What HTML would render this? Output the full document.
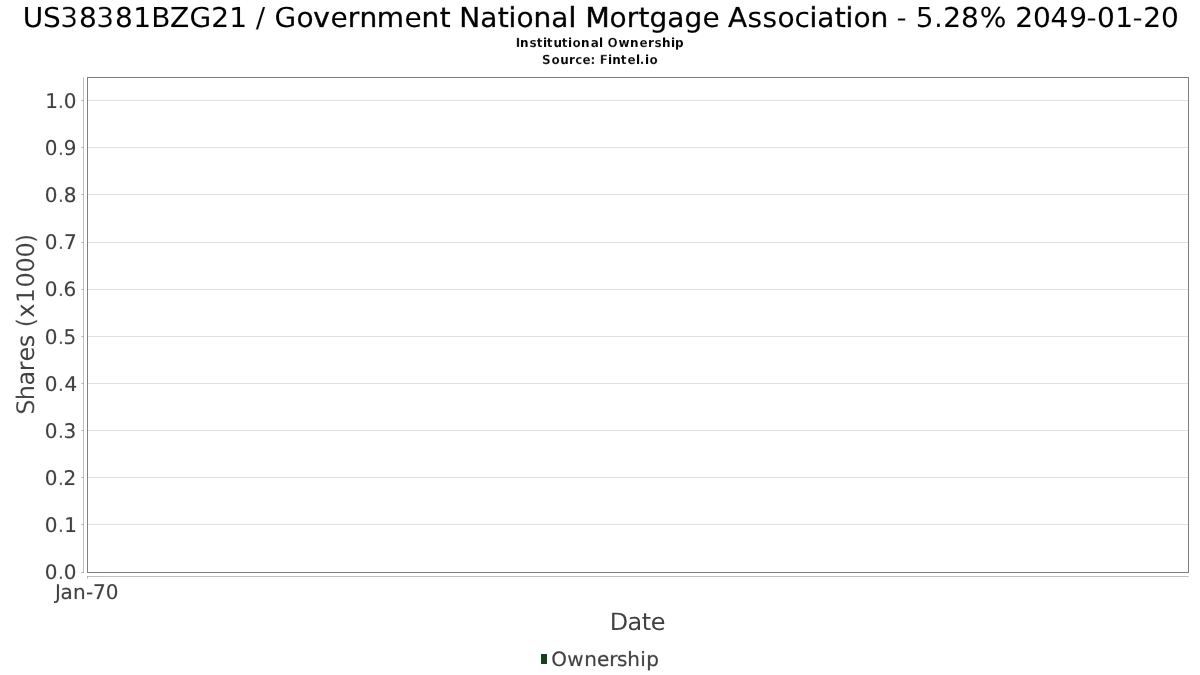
<!DOCTYPE html>
<html lang="en">
<head>
<meta charset="utf-8">
<title>US38381BZG21 / Government National Mortgage Association - 5.28% 2049-01-20 - Institutional Ownership</title>
<style>
html, body { margin: 0; padding: 0; background: #ffffff; }
body { width: 1200px; height: 675px; overflow: hidden; }
svg { display: block; }
</style>
</head>
<body>
<svg width="1200" height="675" viewBox="0 0 1200 675" font-family='"DejaVu Sans", "Liberation Sans", sans-serif' text-rendering="geometricPrecision">
<!-- per-glyph stroke weight maps: emulate the hinted stem weights of the original chart renderer -->
<defs>
<linearGradient id="title-weight" gradientUnits="userSpaceOnUse" x1="0" y1="0" x2="1157" y2="0"><stop offset="0" stop-color="#000000" stop-opacity="0.21"/><stop offset="0.01815" stop-color="#000000" stop-opacity="0.21"/><stop offset="0.01815" stop-color="#000000" stop-opacity="0.06"/><stop offset="0.03371" stop-color="#000000" stop-opacity="0.06"/><stop offset="0.03371" stop-color="#ffffff" stop-opacity="0.49"/><stop offset="0.04927" stop-color="#ffffff" stop-opacity="0.49"/><stop offset="0.04927" stop-color="#000000" stop-opacity="0.15"/><stop offset="0.06482" stop-color="#000000" stop-opacity="0.15"/><stop offset="0.06482" stop-color="#ffffff" stop-opacity="0.49"/><stop offset="0.08038" stop-color="#ffffff" stop-opacity="0.49"/><stop offset="0.08038" stop-color="#000000" stop-opacity="0.15"/><stop offset="0.1115" stop-color="#000000" stop-opacity="0.15"/><stop offset="0.1115" stop-color="#ffffff" stop-opacity="0.08"/><stop offset="0.12792" stop-color="#ffffff" stop-opacity="0.08"/><stop offset="0.12792" stop-color="#000000" stop-opacity="0.23"/><stop offset="0.14434" stop-color="#000000" stop-opacity="0.23"/><stop offset="0.14434" stop-color="#ffffff" stop-opacity="0.05"/><stop offset="0.16335" stop-color="#ffffff" stop-opacity="0.05"/><stop offset="0.16335" stop-color="#000000" stop-opacity="0.22"/><stop offset="0.17891" stop-color="#000000" stop-opacity="0.22"/><stop offset="0.17891" stop-color="#000000" stop-opacity="0.15"/><stop offset="0.19447" stop-color="#000000" stop-opacity="0.15"/><stop offset="0.19447" stop-color="#000000" stop-opacity="0"/><stop offset="0.20225" stop-color="#000000" stop-opacity="0"/><stop offset="0.20225" stop-color="#ffffff" stop-opacity="0.24"/><stop offset="0.21003" stop-color="#ffffff" stop-opacity="0.24"/><stop offset="0.21003" stop-color="#000000" stop-opacity="0"/><stop offset="0.2178" stop-color="#000000" stop-opacity="0"/><stop offset="0.2178" stop-color="#ffffff" stop-opacity="0.05"/><stop offset="0.23682" stop-color="#ffffff" stop-opacity="0.05"/><stop offset="0.23682" stop-color="#000000" stop-opacity="0.22"/><stop offset="0.25151" stop-color="#000000" stop-opacity="0.22"/><stop offset="0.25151" stop-color="#000000" stop-opacity="0.71"/><stop offset="0.26621" stop-color="#000000" stop-opacity="0.71"/><stop offset="0.26621" stop-color="#000000" stop-opacity="0.11"/><stop offset="0.2809" stop-color="#000000" stop-opacity="0.11"/><stop offset="0.2809" stop-color="#000000" stop-opacity="0.55"/><stop offset="0.29127" stop-color="#000000" stop-opacity="0.55"/><stop offset="0.29127" stop-color="#000000" stop-opacity="0.5"/><stop offset="0.30683" stop-color="#000000" stop-opacity="0.5"/><stop offset="0.30683" stop-color="#000000" stop-opacity="0.44"/><stop offset="0.33016" stop-color="#000000" stop-opacity="0.44"/><stop offset="0.33016" stop-color="#000000" stop-opacity="0.11"/><stop offset="0.34486" stop-color="#000000" stop-opacity="0.11"/><stop offset="0.34486" stop-color="#000000" stop-opacity="0.56"/><stop offset="0.36041" stop-color="#000000" stop-opacity="0.56"/><stop offset="0.36041" stop-color="#000000" stop-opacity="0.55"/><stop offset="0.36992" stop-color="#000000" stop-opacity="0.55"/><stop offset="0.36992" stop-color="#000000" stop-opacity="0"/><stop offset="0.3777" stop-color="#000000" stop-opacity="0"/><stop offset="0.3777" stop-color="#000000" stop-opacity="0.54"/><stop offset="0.39585" stop-color="#000000" stop-opacity="0.54"/><stop offset="0.39585" stop-color="#000000" stop-opacity="0.25"/><stop offset="0.41054" stop-color="#000000" stop-opacity="0.25"/><stop offset="0.41054" stop-color="#000000" stop-opacity="0.55"/><stop offset="0.42005" stop-color="#000000" stop-opacity="0.55"/><stop offset="0.42005" stop-color="#000000" stop-opacity="0.66"/><stop offset="0.42697" stop-color="#000000" stop-opacity="0.66"/><stop offset="0.42697" stop-color="#000000" stop-opacity="0.22"/><stop offset="0.44166" stop-color="#000000" stop-opacity="0.22"/><stop offset="0.44166" stop-color="#000000" stop-opacity="0.56"/><stop offset="0.45722" stop-color="#000000" stop-opacity="0.56"/><stop offset="0.45722" stop-color="#000000" stop-opacity="0.25"/><stop offset="0.47191" stop-color="#000000" stop-opacity="0.25"/><stop offset="0.47191" stop-color="#000000" stop-opacity="1"/><stop offset="0.47882" stop-color="#000000" stop-opacity="1"/><stop offset="0.47882" stop-color="#000000" stop-opacity="0"/><stop offset="0.4866" stop-color="#000000" stop-opacity="0"/><stop offset="0.4866" stop-color="#000000" stop-opacity="0.84"/><stop offset="0.50735" stop-color="#000000" stop-opacity="0.84"/><stop offset="0.50735" stop-color="#000000" stop-opacity="0.22"/><stop offset="0.52204" stop-color="#000000" stop-opacity="0.22"/><stop offset="0.52204" stop-color="#000000" stop-opacity="0.55"/><stop offset="0.53241" stop-color="#000000" stop-opacity="0.55"/><stop offset="0.53241" stop-color="#000000" stop-opacity="0.44"/><stop offset="0.54192" stop-color="#000000" stop-opacity="0.44"/><stop offset="0.54192" stop-color="#000000" stop-opacity="0.36"/><stop offset="0.55748" stop-color="#000000" stop-opacity="0.36"/><stop offset="0.55748" stop-color="#000000" stop-opacity="0.25"/><stop offset="0.57217" stop-color="#000000" stop-opacity="0.25"/><stop offset="0.57217" stop-color="#000000" stop-opacity="0.38"/><stop offset="0.58773" stop-color="#000000" stop-opacity="0.38"/><stop offset="0.58773" stop-color="#000000" stop-opacity="0.11"/><stop offset="0.60242" stop-color="#000000" stop-opacity="0.11"/><stop offset="0.60242" stop-color="#000000" stop-opacity="0"/><stop offset="0.6102" stop-color="#000000" stop-opacity="0"/><stop offset="0.6102" stop-color="#000000" stop-opacity="0.45"/><stop offset="0.62662" stop-color="#000000" stop-opacity="0.45"/><stop offset="0.62662" stop-color="#000000" stop-opacity="0.1"/><stop offset="0.63959" stop-color="#000000" stop-opacity="0.1"/><stop offset="0.63959" stop-color="#000000" stop-opacity="0.11"/><stop offset="0.65255" stop-color="#000000" stop-opacity="0.11"/><stop offset="0.65255" stop-color="#000000" stop-opacity="0.22"/><stop offset="0.66724" stop-color="#000000" stop-opacity="0.22"/><stop offset="0.66724" stop-color="#000000" stop-opacity="0.03"/><stop offset="0.68021" stop-color="#000000" stop-opacity="0.03"/><stop offset="0.68021" stop-color="#000000" stop-opacity="0.77"/><stop offset="0.68712" stop-color="#000000" stop-opacity="0.77"/><stop offset="0.68712" stop-color="#000000" stop-opacity="0.25"/><stop offset="0.70182" stop-color="#000000" stop-opacity="0.25"/><stop offset="0.70182" stop-color="#000000" stop-opacity="0.54"/><stop offset="0.71132" stop-color="#000000" stop-opacity="0.54"/><stop offset="0.71132" stop-color="#000000" stop-opacity="0.66"/><stop offset="0.71824" stop-color="#000000" stop-opacity="0.66"/><stop offset="0.71824" stop-color="#000000" stop-opacity="0.22"/><stop offset="0.73293" stop-color="#000000" stop-opacity="0.22"/><stop offset="0.73293" stop-color="#000000" stop-opacity="0.56"/><stop offset="0.74849" stop-color="#000000" stop-opacity="0.56"/><stop offset="0.74849" stop-color="#000000" stop-opacity="0"/><stop offset="0.75627" stop-color="#000000" stop-opacity="0"/><stop offset="0.75627" stop-color="#ffffff" stop-opacity="0.34"/><stop offset="0.76491" stop-color="#ffffff" stop-opacity="0.34"/><stop offset="0.76491" stop-color="#000000" stop-opacity="0"/><stop offset="0.77269" stop-color="#000000" stop-opacity="0"/><stop offset="0.77269" stop-color="#ffffff" stop-opacity="0.19"/><stop offset="0.78825" stop-color="#ffffff" stop-opacity="0.19"/><stop offset="0.78825" stop-color="#ffffff" stop-opacity="0.21"/><stop offset="0.79602" stop-color="#ffffff" stop-opacity="0.21"/><stop offset="0.79602" stop-color="#000000" stop-opacity="0.22"/><stop offset="0.81158" stop-color="#000000" stop-opacity="0.22"/><stop offset="0.81158" stop-color="#000000" stop-opacity="0.15"/><stop offset="0.82714" stop-color="#000000" stop-opacity="0.15"/><stop offset="0.82714" stop-color="#000000" stop-opacity="0.14"/><stop offset="0.85048" stop-color="#000000" stop-opacity="0.14"/><stop offset="0.85048" stop-color="#000000" stop-opacity="0"/><stop offset="0.85825" stop-color="#000000" stop-opacity="0"/><stop offset="0.85825" stop-color="#000000" stop-opacity="0.22"/><stop offset="0.87381" stop-color="#000000" stop-opacity="0.22"/><stop offset="0.87381" stop-color="#000000" stop-opacity="0.17"/><stop offset="0.88937" stop-color="#000000" stop-opacity="0.17"/><stop offset="0.88937" stop-color="#000000" stop-opacity="0.14"/><stop offset="0.90493" stop-color="#000000" stop-opacity="0.14"/><stop offset="0.90493" stop-color="#ffffff" stop-opacity="0.09"/><stop offset="0.92048" stop-color="#ffffff" stop-opacity="0.09"/><stop offset="0.92048" stop-color="#ffffff" stop-opacity="0.34"/><stop offset="0.92913" stop-color="#ffffff" stop-opacity="0.34"/><stop offset="0.92913" stop-color="#000000" stop-opacity="0.17"/><stop offset="0.94468" stop-color="#000000" stop-opacity="0.17"/><stop offset="0.94468" stop-color="#000000" stop-opacity="0.15"/><stop offset="0.96024" stop-color="#000000" stop-opacity="0.15"/><stop offset="0.96024" stop-color="#ffffff" stop-opacity="0.34"/><stop offset="0.96889" stop-color="#ffffff" stop-opacity="0.34"/><stop offset="0.96889" stop-color="#000000" stop-opacity="0.22"/><stop offset="0.98444" stop-color="#000000" stop-opacity="0.22"/><stop offset="0.98444" stop-color="#000000" stop-opacity="0.17"/><stop offset="1" stop-color="#000000" stop-opacity="0.17"/></linearGradient>
<linearGradient id="sub1-weight" gradientUnits="userSpaceOnUse" x1="0" y1="0" x2="168" y2="0"><stop offset="0" stop-color="#ffffff" stop-opacity="0.43"/><stop offset="0.02381" stop-color="#ffffff" stop-opacity="0.43"/><stop offset="0.02381" stop-color="#ffffff" stop-opacity="0.06"/><stop offset="0.07738" stop-color="#ffffff" stop-opacity="0.06"/><stop offset="0.07738" stop-color="#ffffff" stop-opacity="0.3"/><stop offset="0.125" stop-color="#ffffff" stop-opacity="0.3"/><stop offset="0.125" stop-color="#ffffff" stop-opacity="0.32"/><stop offset="0.16071" stop-color="#ffffff" stop-opacity="0.32"/><stop offset="0.16071" stop-color="#ffffff" stop-opacity="0.06"/><stop offset="0.18452" stop-color="#ffffff" stop-opacity="0.06"/><stop offset="0.18452" stop-color="#ffffff" stop-opacity="0.32"/><stop offset="0.22024" stop-color="#ffffff" stop-opacity="0.32"/><stop offset="0.22024" stop-color="#ffffff" stop-opacity="0.11"/><stop offset="0.27381" stop-color="#ffffff" stop-opacity="0.11"/><stop offset="0.27381" stop-color="#ffffff" stop-opacity="0.32"/><stop offset="0.30952" stop-color="#ffffff" stop-opacity="0.32"/><stop offset="0.30952" stop-color="#ffffff" stop-opacity="0.04"/><stop offset="0.33333" stop-color="#ffffff" stop-opacity="0.04"/><stop offset="0.33333" stop-color="#ffffff" stop-opacity="0.4"/><stop offset="0.3869" stop-color="#ffffff" stop-opacity="0.4"/><stop offset="0.3869" stop-color="#ffffff" stop-opacity="0.06"/><stop offset="0.44048" stop-color="#ffffff" stop-opacity="0.06"/><stop offset="0.44048" stop-color="#ffffff" stop-opacity="0.27"/><stop offset="0.49405" stop-color="#ffffff" stop-opacity="0.27"/><stop offset="0.49405" stop-color="#ffffff" stop-opacity="0.02"/><stop offset="0.51786" stop-color="#ffffff" stop-opacity="0.02"/><stop offset="0.51786" stop-color="#000000" stop-opacity="0"/><stop offset="0.54167" stop-color="#000000" stop-opacity="0"/><stop offset="0.54167" stop-color="#ffffff" stop-opacity="0.58"/><stop offset="0.60714" stop-color="#ffffff" stop-opacity="0.58"/><stop offset="0.60714" stop-color="#ffffff" stop-opacity="0.13"/><stop offset="0.67857" stop-color="#ffffff" stop-opacity="0.13"/><stop offset="0.67857" stop-color="#ffffff" stop-opacity="0.06"/><stop offset="0.73214" stop-color="#ffffff" stop-opacity="0.06"/><stop offset="0.73214" stop-color="#ffffff" stop-opacity="0.34"/><stop offset="0.78571" stop-color="#ffffff" stop-opacity="0.34"/><stop offset="0.78571" stop-color="#ffffff" stop-opacity="0.19"/><stop offset="0.82143" stop-color="#ffffff" stop-opacity="0.19"/><stop offset="0.82143" stop-color="#ffffff" stop-opacity="0.29"/><stop offset="0.86905" stop-color="#ffffff" stop-opacity="0.29"/><stop offset="0.86905" stop-color="#000000" stop-opacity="0.01"/><stop offset="0.92262" stop-color="#000000" stop-opacity="0.01"/><stop offset="0.92262" stop-color="#ffffff" stop-opacity="0.03"/><stop offset="0.94643" stop-color="#ffffff" stop-opacity="0.03"/><stop offset="0.94643" stop-color="#ffffff" stop-opacity="0.14"/><stop offset="1" stop-color="#ffffff" stop-opacity="0.14"/></linearGradient>
<linearGradient id="sub2-weight" gradientUnits="userSpaceOnUse" x1="0" y1="0" x2="116" y2="0"><stop offset="0" stop-color="#ffffff" stop-opacity="0.36"/><stop offset="0.07759" stop-color="#ffffff" stop-opacity="0.36"/><stop offset="0.07759" stop-color="#ffffff" stop-opacity="0.39"/><stop offset="0.15517" stop-color="#ffffff" stop-opacity="0.39"/><stop offset="0.15517" stop-color="#ffffff" stop-opacity="0.09"/><stop offset="0.23276" stop-color="#ffffff" stop-opacity="0.09"/><stop offset="0.23276" stop-color="#ffffff" stop-opacity="0.19"/><stop offset="0.28448" stop-color="#ffffff" stop-opacity="0.19"/><stop offset="0.28448" stop-color="#ffffff" stop-opacity="0.48"/><stop offset="0.34483" stop-color="#ffffff" stop-opacity="0.48"/><stop offset="0.34483" stop-color="#ffffff" stop-opacity="0.34"/><stop offset="0.42241" stop-color="#ffffff" stop-opacity="0.34"/><stop offset="0.42241" stop-color="#ffffff" stop-opacity="0.41"/><stop offset="0.46552" stop-color="#ffffff" stop-opacity="0.41"/><stop offset="0.46552" stop-color="#000000" stop-opacity="0"/><stop offset="0.5" stop-color="#000000" stop-opacity="0"/><stop offset="0.5" stop-color="#ffffff" stop-opacity="0.6"/><stop offset="0.56897" stop-color="#ffffff" stop-opacity="0.6"/><stop offset="0.56897" stop-color="#ffffff" stop-opacity="0.04"/><stop offset="0.60345" stop-color="#ffffff" stop-opacity="0.04"/><stop offset="0.60345" stop-color="#ffffff" stop-opacity="0.06"/><stop offset="0.68103" stop-color="#ffffff" stop-opacity="0.06"/><stop offset="0.68103" stop-color="#ffffff" stop-opacity="0.32"/><stop offset="0.73276" stop-color="#ffffff" stop-opacity="0.32"/><stop offset="0.73276" stop-color="#ffffff" stop-opacity="0.34"/><stop offset="0.81034" stop-color="#ffffff" stop-opacity="0.34"/><stop offset="0.81034" stop-color="#ffffff" stop-opacity="0.02"/><stop offset="0.84483" stop-color="#ffffff" stop-opacity="0.02"/><stop offset="0.84483" stop-color="#ffffff" stop-opacity="0.41"/><stop offset="0.88793" stop-color="#ffffff" stop-opacity="0.41"/><stop offset="0.88793" stop-color="#ffffff" stop-opacity="0.04"/><stop offset="0.92241" stop-color="#ffffff" stop-opacity="0.04"/><stop offset="0.92241" stop-color="#ffffff" stop-opacity="0.39"/><stop offset="1" stop-color="#ffffff" stop-opacity="0.39"/></linearGradient>
<linearGradient id="xt0-weight" gradientUnits="userSpaceOnUse" x1="0" y1="0" x2="64" y2="0"><stop offset="0" stop-color="#404040" stop-opacity="0.16"/><stop offset="0.09375" stop-color="#404040" stop-opacity="0.16"/><stop offset="0.09375" stop-color="#404040" stop-opacity="0.32"/><stop offset="0.28125" stop-color="#404040" stop-opacity="0.32"/><stop offset="0.28125" stop-color="#404040" stop-opacity="0.28"/><stop offset="0.48438" stop-color="#404040" stop-opacity="0.28"/><stop offset="0.48438" stop-color="#404040" stop-opacity="0.22"/><stop offset="0.59375" stop-color="#404040" stop-opacity="0.22"/><stop offset="0.59375" stop-color="#404040" stop-opacity="0.29"/><stop offset="0.79688" stop-color="#404040" stop-opacity="0.29"/><stop offset="0.79688" stop-color="#404040" stop-opacity="0.27"/><stop offset="1" stop-color="#404040" stop-opacity="0.27"/></linearGradient>
<linearGradient id="xlab-weight" gradientUnits="userSpaceOnUse" x1="0" y1="0" x2="55" y2="0"><stop offset="0" stop-color="#ffffff" stop-opacity="0.14"/><stop offset="0.32727" stop-color="#ffffff" stop-opacity="0.14"/><stop offset="0.32727" stop-color="#404040" stop-opacity="0.03"/><stop offset="0.58182" stop-color="#404040" stop-opacity="0.03"/><stop offset="0.58182" stop-color="#ffffff" stop-opacity="0.05"/><stop offset="0.74545" stop-color="#ffffff" stop-opacity="0.05"/><stop offset="0.74545" stop-color="#404040" stop-opacity="0.04"/><stop offset="1" stop-color="#404040" stop-opacity="0.04"/></linearGradient>
<linearGradient id="leg-weight" gradientUnits="userSpaceOnUse" x1="0" y1="0" x2="108" y2="0"><stop offset="0" stop-color="#404040" stop-opacity="0.19"/><stop offset="0.14815" stop-color="#404040" stop-opacity="0.19"/><stop offset="0.14815" stop-color="#404040" stop-opacity="0.23"/><stop offset="0.30556" stop-color="#404040" stop-opacity="0.23"/><stop offset="0.30556" stop-color="#404040" stop-opacity="0.3"/><stop offset="0.42593" stop-color="#404040" stop-opacity="0.3"/><stop offset="0.42593" stop-color="#404040" stop-opacity="0.51"/><stop offset="0.53704" stop-color="#404040" stop-opacity="0.51"/><stop offset="0.53704" stop-color="#404040" stop-opacity="0.4"/><stop offset="0.61111" stop-color="#404040" stop-opacity="0.4"/><stop offset="0.61111" stop-color="#404040" stop-opacity="0.34"/><stop offset="0.7037" stop-color="#404040" stop-opacity="0.34"/><stop offset="0.7037" stop-color="#404040" stop-opacity="0.29"/><stop offset="0.82407" stop-color="#404040" stop-opacity="0.29"/><stop offset="0.82407" stop-color="#404040" stop-opacity="0.24"/><stop offset="0.87963" stop-color="#404040" stop-opacity="0.24"/><stop offset="0.87963" stop-color="#404040" stop-opacity="0.37"/><stop offset="1" stop-color="#404040" stop-opacity="0.37"/></linearGradient>
<linearGradient id="yt0-weight" gradientUnits="userSpaceOnUse" x1="0" y1="0" x2="32" y2="0"><stop offset="0" stop-color="#404040" stop-opacity="0.2"/><stop offset="0.40625" stop-color="#404040" stop-opacity="0.2"/><stop offset="0.40625" stop-color="#ffffff" stop-opacity="0.54"/><stop offset="0.59375" stop-color="#ffffff" stop-opacity="0.54"/><stop offset="0.59375" stop-color="#404040" stop-opacity="0.27"/><stop offset="1" stop-color="#404040" stop-opacity="0.27"/></linearGradient>
<linearGradient id="yt1-weight" gradientUnits="userSpaceOnUse" x1="0" y1="0" x2="32" y2="0"><stop offset="0" stop-color="#404040" stop-opacity="0.15"/><stop offset="0.40625" stop-color="#404040" stop-opacity="0.15"/><stop offset="0.40625" stop-color="#ffffff" stop-opacity="0.55"/><stop offset="0.59375" stop-color="#ffffff" stop-opacity="0.55"/><stop offset="0.59375" stop-color="#404040" stop-opacity="0.07"/><stop offset="1" stop-color="#404040" stop-opacity="0.07"/></linearGradient>
<linearGradient id="yt2-weight" gradientUnits="userSpaceOnUse" x1="0" y1="0" x2="32" y2="0"><stop offset="0" stop-color="#404040" stop-opacity="0.27"/><stop offset="0.40625" stop-color="#404040" stop-opacity="0.27"/><stop offset="0.40625" stop-color="#ffffff" stop-opacity="0.54"/><stop offset="0.59375" stop-color="#ffffff" stop-opacity="0.54"/><stop offset="0.59375" stop-color="#404040" stop-opacity="0.31"/><stop offset="1" stop-color="#404040" stop-opacity="0.31"/></linearGradient>
<linearGradient id="yt3-weight" gradientUnits="userSpaceOnUse" x1="0" y1="0" x2="32" y2="0"><stop offset="0" stop-color="#404040" stop-opacity="0.27"/><stop offset="0.40625" stop-color="#404040" stop-opacity="0.27"/><stop offset="0.40625" stop-color="#ffffff" stop-opacity="0.54"/><stop offset="0.59375" stop-color="#ffffff" stop-opacity="0.54"/><stop offset="0.59375" stop-color="#404040" stop-opacity="0.27"/><stop offset="1" stop-color="#404040" stop-opacity="0.27"/></linearGradient>
<linearGradient id="yt4-weight" gradientUnits="userSpaceOnUse" x1="0" y1="0" x2="32" y2="0"><stop offset="0" stop-color="#404040" stop-opacity="0.29"/><stop offset="0.40625" stop-color="#404040" stop-opacity="0.29"/><stop offset="0.40625" stop-color="#ffffff" stop-opacity="0.52"/><stop offset="0.59375" stop-color="#ffffff" stop-opacity="0.52"/><stop offset="0.59375" stop-color="#404040" stop-opacity="0.19"/><stop offset="1" stop-color="#404040" stop-opacity="0.19"/></linearGradient>
<linearGradient id="yt5-weight" gradientUnits="userSpaceOnUse" x1="0" y1="0" x2="32" y2="0"><stop offset="0" stop-color="#404040" stop-opacity="0.27"/><stop offset="0.40625" stop-color="#404040" stop-opacity="0.27"/><stop offset="0.40625" stop-color="#ffffff" stop-opacity="0.54"/><stop offset="0.59375" stop-color="#ffffff" stop-opacity="0.54"/><stop offset="0.59375" stop-color="#404040" stop-opacity="0.12"/><stop offset="1" stop-color="#404040" stop-opacity="0.12"/></linearGradient>
<linearGradient id="yt6-weight" gradientUnits="userSpaceOnUse" x1="0" y1="0" x2="32" y2="0"><stop offset="0" stop-color="#404040" stop-opacity="0.27"/><stop offset="0.40625" stop-color="#404040" stop-opacity="0.27"/><stop offset="0.40625" stop-color="#ffffff" stop-opacity="0.54"/><stop offset="0.59375" stop-color="#ffffff" stop-opacity="0.54"/><stop offset="0.59375" stop-color="#404040" stop-opacity="0.26"/><stop offset="1" stop-color="#404040" stop-opacity="0.26"/></linearGradient>
<linearGradient id="yt7-weight" gradientUnits="userSpaceOnUse" x1="0" y1="0" x2="32" y2="0"><stop offset="0" stop-color="#404040" stop-opacity="0.27"/><stop offset="0.40625" stop-color="#404040" stop-opacity="0.27"/><stop offset="0.40625" stop-color="#ffffff" stop-opacity="0.54"/><stop offset="0.59375" stop-color="#ffffff" stop-opacity="0.54"/><stop offset="0.59375" stop-color="#404040" stop-opacity="0.21"/><stop offset="1" stop-color="#404040" stop-opacity="0.21"/></linearGradient>
<linearGradient id="yt8-weight" gradientUnits="userSpaceOnUse" x1="0" y1="0" x2="32" y2="0"><stop offset="0" stop-color="#404040" stop-opacity="0.27"/><stop offset="0.40625" stop-color="#404040" stop-opacity="0.27"/><stop offset="0.40625" stop-color="#ffffff" stop-opacity="0.54"/><stop offset="0.59375" stop-color="#ffffff" stop-opacity="0.54"/><stop offset="0.59375" stop-color="#404040" stop-opacity="0.22"/><stop offset="1" stop-color="#404040" stop-opacity="0.22"/></linearGradient>
<linearGradient id="yt9-weight" gradientUnits="userSpaceOnUse" x1="0" y1="0" x2="32" y2="0"><stop offset="0" stop-color="#404040" stop-opacity="0.27"/><stop offset="0.40625" stop-color="#404040" stop-opacity="0.27"/><stop offset="0.40625" stop-color="#ffffff" stop-opacity="0.54"/><stop offset="0.59375" stop-color="#ffffff" stop-opacity="0.54"/><stop offset="0.59375" stop-color="#404040" stop-opacity="0.21"/><stop offset="1" stop-color="#404040" stop-opacity="0.21"/></linearGradient>
<linearGradient id="yt10-weight" gradientUnits="userSpaceOnUse" x1="0" y1="0" x2="32" y2="0"><stop offset="0" stop-color="#404040" stop-opacity="0.27"/><stop offset="0.40625" stop-color="#404040" stop-opacity="0.27"/><stop offset="0.40625" stop-color="#ffffff" stop-opacity="0.53"/><stop offset="0.59375" stop-color="#ffffff" stop-opacity="0.53"/><stop offset="0.59375" stop-color="#404040" stop-opacity="0.27"/><stop offset="1" stop-color="#404040" stop-opacity="0.27"/></linearGradient>
<linearGradient id="ylab-weight" gradientUnits="userSpaceOnUse" x1="0" y1="0" x2="181" y2="0"><stop offset="0" stop-color="#ffffff" stop-opacity="0.35"/><stop offset="0.08287" stop-color="#ffffff" stop-opacity="0.35"/><stop offset="0.08287" stop-color="#ffffff" stop-opacity="0.16"/><stop offset="0.16575" stop-color="#ffffff" stop-opacity="0.16"/><stop offset="0.16575" stop-color="#ffffff" stop-opacity="0.04"/><stop offset="0.24309" stop-color="#ffffff" stop-opacity="0.04"/><stop offset="0.24309" stop-color="#ffffff" stop-opacity="0.01"/><stop offset="0.29834" stop-color="#ffffff" stop-opacity="0.01"/><stop offset="0.29834" stop-color="#ffffff" stop-opacity="0.03"/><stop offset="0.37569" stop-color="#ffffff" stop-opacity="0.03"/><stop offset="0.37569" stop-color="#ffffff" stop-opacity="0.04"/><stop offset="0.44199" stop-color="#ffffff" stop-opacity="0.04"/><stop offset="0.44199" stop-color="#404040" stop-opacity="0"/><stop offset="0.48619" stop-color="#404040" stop-opacity="0"/><stop offset="0.48619" stop-color="#ffffff" stop-opacity="0.39"/><stop offset="0.53591" stop-color="#ffffff" stop-opacity="0.39"/><stop offset="0.53591" stop-color="#ffffff" stop-opacity="0.06"/><stop offset="0.61878" stop-color="#ffffff" stop-opacity="0.06"/><stop offset="0.61878" stop-color="#ffffff" stop-opacity="0.38"/><stop offset="0.70166" stop-color="#ffffff" stop-opacity="0.38"/><stop offset="0.70166" stop-color="#ffffff" stop-opacity="0.17"/><stop offset="0.78453" stop-color="#ffffff" stop-opacity="0.17"/><stop offset="0.78453" stop-color="#ffffff" stop-opacity="0.18"/><stop offset="0.8674" stop-color="#ffffff" stop-opacity="0.18"/><stop offset="0.8674" stop-color="#ffffff" stop-opacity="0.17"/><stop offset="0.95028" stop-color="#ffffff" stop-opacity="0.17"/><stop offset="0.95028" stop-color="#ffffff" stop-opacity="0.48"/><stop offset="1" stop-color="#ffffff" stop-opacity="0.48"/></linearGradient>
</defs>
<!-- plot area, gridlines, axes, legend marker -->
<rect x="0" y="0" width="1200" height="675" fill="#ffffff"/>
<g id="gridlines" fill="#e0e0e0" shape-rendering="crispEdges"><rect x="88" y="100" width="1100" height="1"/><rect x="88" y="147" width="1100" height="1"/><rect x="88" y="194" width="1100" height="1"/><rect x="88" y="242" width="1100" height="1"/><rect x="88" y="289" width="1100" height="1"/><rect x="88" y="336" width="1100" height="1"/><rect x="88" y="383" width="1100" height="1"/><rect x="88" y="430" width="1100" height="1"/><rect x="88" y="477" width="1100" height="1"/><rect x="88" y="524" width="1100" height="1"/></g>
<rect id="plot-outline" x="87.5" y="77.5" width="1101" height="495" fill="none" stroke="#808080" stroke-width="1" shape-rendering="crispEdges"/>
<g id="axes" fill="#c0c0c0" shape-rendering="crispEdges"><rect x="83" y="78" width="1" height="495"/><rect x="83" y="77" width="1" height="1" fill="#d0d0d0"/><rect x="87" y="576" width="1101" height="1"/><rect x="1188" y="576" width="1" height="1" fill="#d0d0d0"/><rect x="82" y="100" width="1" height="1"/><rect x="81" y="100" width="1" height="1" fill="#d0d0d0"/><rect x="83" y="100" width="1" height="1" fill="#a8a8a8"/><rect x="82" y="147" width="1" height="1"/><rect x="81" y="147" width="1" height="1" fill="#d0d0d0"/><rect x="83" y="147" width="1" height="1" fill="#a8a8a8"/><rect x="82" y="194" width="1" height="1"/><rect x="81" y="194" width="1" height="1" fill="#d0d0d0"/><rect x="83" y="194" width="1" height="1" fill="#a8a8a8"/><rect x="82" y="242" width="1" height="1"/><rect x="81" y="242" width="1" height="1" fill="#d0d0d0"/><rect x="83" y="242" width="1" height="1" fill="#a8a8a8"/><rect x="82" y="289" width="1" height="1"/><rect x="81" y="289" width="1" height="1" fill="#d0d0d0"/><rect x="83" y="289" width="1" height="1" fill="#a8a8a8"/><rect x="82" y="336" width="1" height="1"/><rect x="81" y="336" width="1" height="1" fill="#d0d0d0"/><rect x="83" y="336" width="1" height="1" fill="#a8a8a8"/><rect x="82" y="383" width="1" height="1"/><rect x="81" y="383" width="1" height="1" fill="#d0d0d0"/><rect x="83" y="383" width="1" height="1" fill="#a8a8a8"/><rect x="82" y="430" width="1" height="1"/><rect x="81" y="430" width="1" height="1" fill="#d0d0d0"/><rect x="83" y="430" width="1" height="1" fill="#a8a8a8"/><rect x="82" y="477" width="1" height="1"/><rect x="81" y="477" width="1" height="1" fill="#d0d0d0"/><rect x="83" y="477" width="1" height="1" fill="#a8a8a8"/><rect x="82" y="524" width="1" height="1"/><rect x="81" y="524" width="1" height="1" fill="#d0d0d0"/><rect x="83" y="524" width="1" height="1" fill="#a8a8a8"/><rect x="82" y="572" width="1" height="1"/><rect x="81" y="572" width="1" height="1" fill="#d0d0d0"/><rect x="83" y="572" width="1" height="1" fill="#a8a8a8"/><rect x="87" y="577" width="1" height="1"/><rect x="87" y="578" width="1" height="1" fill="#d0d0d0"/><rect x="87" y="576" width="1" height="1" fill="#a8a8a8"/></g>
<rect id="legend-marker" x="541" y="654" width="6" height="10" fill="#16401f" shape-rendering="crispEdges"/>
<!-- chart text (real text, positioned per glyph) -->
<text id="title" transform="translate(22 27) scale(1 0.98)" x="0.75 20.96 38.26 57.1 74.26 93.1 111.35 129.25 147.91 167.53 189.15 207.35 225.12 233.78 242.75 252.53 274.43 291.21 308.49 325.72 337.42 354.78 382.49 399.54 417.72 428 437.15 458.36 475.72 486.48 494.43 511.54 529.36 546.6 554 563.41 587.43 604.72 616.47 627.49 645.36 662.62 680.49 697 705.93 725.48 740.61 755.43 772.41 787.6 795.36 812.72 823.48 831.43 848.54 866 874.45 885 893.72 912.06 921.15 939.1 957.7 984 993.15 1011.1 1028.57 1047.19 1064.45 1075.1 1093.35 1110.45 1121.15 1139.1" y="0" font-size="28" fill="#000000" stroke="url(#title-weight)" stroke-width="0.6">US38381BZG21 / Government National Mortgage Association - 5.28% 2049-01-20</text>
<text id="sub1" transform="translate(516 47) scale(1 1.05)" x="-0.23 4.07 13.38 20.69 26.94 30.69 37.51 45.69 51.94 56.38 65.07 74.72 82.94 87 91.4 102.45 114.07 123.47 132.05 138.38 146.07 154.94 158.95" y="0" font-size="12" font-weight="bold" fill="#000000" stroke="url(#sub1-weight)" stroke-width="0.6">Institutional Ownership</text>
<text id="sub2" transform="translate(542 64) scale(1 1.05)" x="0.06 9.38 18.26 27.05 33.26 40.47 48.6 54 57.85 65.94 70.19 78.69 85.47 93.94 97.72 102.94 107.38" y="0" font-size="12" font-weight="bold" fill="#000000" stroke="url(#sub2-weight)" stroke-width="0.6">Source: Fintel.io</text>
<text id="xt0" transform="translate(55 599) scale(1 1.01)" x="0.05 5.57 18.1 30.89 37.92 50.64" y="0" font-size="20" fill="#404040" stroke="url(#xt0-weight)" stroke-width="0.6">Jan-70</text>
<text id="xlab" transform="translate(610 630) scale(1 0.99)" x="-0.15 17.61 31.71 40.8" y="0" font-size="24" fill="#404040" stroke="url(#xlab-weight)" stroke-width="0.6">Date</text>
<text id="leg" transform="translate(551 666) scale(1 0.99)" x="0.13 16.32 33.23 45.96 58.23 65.99 76.23 89.22 95.28" y="0" font-size="20" fill="#404040" stroke="url(#leg-weight)" stroke-width="0.6">Ownership</text>
<text id="yt0" transform="translate(45 108) scale(1 1.01)" x="0.16 12.78 18.84" y="0" font-size="20" fill="#404040" stroke="url(#yt0-weight)" stroke-width="0.6">1.0</text>
<text id="yt1" transform="translate(45 155) scale(1 1.02)" x="-0.36 12.83 18.71" y="0" font-size="20" fill="#404040" stroke="url(#yt1-weight)" stroke-width="0.6">0.9</text>
<text id="yt2" transform="translate(45 202) scale(1 1.01)" x="-0.36 12.83 18.64" y="0" font-size="20" fill="#404040" stroke="url(#yt2-weight)" stroke-width="0.6">0.8</text>
<text id="yt3" transform="translate(45 249) scale(1 1.01)" x="-0.36 12.83 18.92" y="0" font-size="20" fill="#404040" stroke="url(#yt3-weight)" stroke-width="0.6">0.7</text>
<text id="yt4" transform="translate(45 296) scale(1 0.99)" x="-0.36 12.83 18.56" y="0" font-size="20" fill="#404040" stroke="url(#yt4-weight)" stroke-width="0.6">0.6</text>
<text id="yt5" transform="translate(45 344) scale(1 1.01)" x="-0.36 12.83 18.47" y="0" font-size="20" fill="#404040" stroke="url(#yt5-weight)" stroke-width="0.6">0.5</text>
<text id="yt6" transform="translate(45 391) scale(1 1.01)" x="-0.36 12.83 19.46" y="0" font-size="20" fill="#404040" stroke="url(#yt6-weight)" stroke-width="0.6">0.4</text>
<text id="yt7" transform="translate(45 438) scale(1 1.01)" x="-0.36 12.83 18.53" y="0" font-size="20" fill="#404040" stroke="url(#yt7-weight)" stroke-width="0.6">0.3</text>
<text id="yt8" transform="translate(45 485) scale(1 1.01)" x="-0.36 12.83 18.45" y="0" font-size="20" fill="#404040" stroke="url(#yt8-weight)" stroke-width="0.6">0.2</text>
<text id="yt9" transform="translate(45 532) scale(1 1.01)" x="-0.16 12.78 19.16" y="0" font-size="20" fill="#404040" stroke="url(#yt9-weight)" stroke-width="0.6">0.1</text>
<text id="yt10" transform="translate(45 579) scale(1 1)" x="-0.36 12.83 18.64" y="0" font-size="20" fill="#404040" stroke="url(#yt10-weight)" stroke-width="0.6">0.0</text>
<text id="ylab" transform="translate(34 415) rotate(-90) scale(1 1.01)" x="0.26 14.72 29.43 43.87 53.5 67.69 79.9 87.66 97.34 111.8 127.52 142.52 157.52 171.78" y="0" font-size="24" fill="#404040" stroke="url(#ylab-weight)" stroke-width="0.6">Shares (x1000)</text>
</svg>
</body>
</html>
